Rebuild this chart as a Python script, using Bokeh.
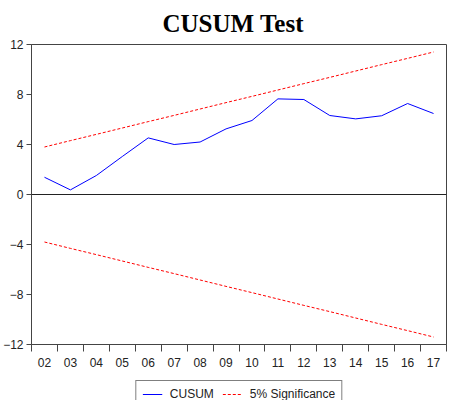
from bokeh.plotting import figure
from bokeh.layouts import column
from bokeh.models import (Range1d, FixedTicker, Span, Legend, LegendItem, ColumnDataSource)
from bokeh.embed import file_html
from bokeh.resources import INLINE

periods = ["02", "03", "04", "05", "06", "07", "08", "09",
           "10", "11", "12", "13", "14", "15", "16", "17"]
cusum = [1.38, 0.37, 1.52, 3.04, 4.53, 4.00, 4.20, 5.25,
         5.92, 7.65, 7.60, 6.32, 6.05, 6.30, 7.28, 6.48]
upper = [3.80, 4.31, 4.81, 5.32, 5.83, 6.33, 6.84, 7.35,
         7.85, 8.36, 8.87, 9.37, 9.88, 10.39, 10.89, 11.40]
lower = [-3.80, -4.31, -4.81, -5.32, -5.83, -6.33, -6.84, -7.35,
         -7.85, -8.36, -8.87, -9.37, -9.88, -10.39, -10.89, -11.40]
y_ticks = [-12, -8, -4, 0, 4, 8, 12]
series_names = ["CUSUM", "5% Significance"]

xpos = [i + 0.5 for i in range(len(periods))]
src = ColumnDataSource(dict(x=xpos, cusum=cusum, upper=upper, lower=lower))

CUSUM_COLOR = "#0000ff"
SIG_COLOR = "#ff0000"
SIG_DASH = "3 2"

p = figure(width=447, height=377, output_backend="svg", toolbar_location=None,
           x_range=Range1d(0, len(periods)), y_range=Range1d(-12, 12),
           min_border_left=27, min_border_right=1, min_border_top=36,
           min_border_bottom=33)

p.title.text = "CUSUM Test"
p.title.text_font = "Liberation Serif"
p.title.text_font_size = "25px"
p.title.text_font_style = "bold"
p.title.text_color = "black"
p.title.align = "left"
p.title.offset = 131
p.title.standoff = 15

p.grid.visible = False
p.outline_line_color = "#444444"
p.outline_line_width = 1

p.line("x", "cusum", source=src, line_color=CUSUM_COLOR, line_width=1)
p.line("x", "upper", source=src, line_color=SIG_COLOR, line_width=1, line_dash=SIG_DASH)
p.line("x", "lower", source=src, line_color=SIG_COLOR, line_width=1, line_dash=SIG_DASH)

p.add_layout(Span(location=0, dimension="width", line_color="#222222", line_width=1))

# axes
p.xaxis.ticker = FixedTicker(ticks=xpos, minor_ticks=list(range(len(periods) + 1)))
p.xaxis.major_label_overrides = {x: lab for x, lab in zip(xpos, periods)}
p.xaxis.major_tick_out = 0
p.xaxis.major_tick_in = 0
p.xaxis.minor_tick_out = 7
p.xaxis.minor_tick_in = 0
p.xaxis.minor_tick_line_color = "#444444"
p.xaxis.axis_line_color = "#444444"
p.xaxis.major_label_standoff = 6
p.xaxis.major_label_text_font = "Liberation Sans"
p.xaxis.major_label_text_font_size = "12px"
p.xaxis.major_label_text_color = "#222222"

p.yaxis.ticker = FixedTicker(ticks=y_ticks, minor_ticks=[])
p.yaxis.major_tick_out = 5
p.yaxis.major_tick_in = 0
p.yaxis.major_tick_line_color = "#444444"
p.yaxis.axis_line_color = "#444444"
p.yaxis.major_label_standoff = 3
p.yaxis.major_label_text_font = "Liberation Sans"
p.yaxis.major_label_text_font_size = "12px"
p.yaxis.major_label_text_color = "#222222"

# legend strip below the chart
lg = figure(width=447, height=23, output_backend="svg", toolbar_location=None,
            x_range=Range1d(100, 101), y_range=Range1d(100, 101),
            x_axis_location=None, y_axis_location=None,
            min_border_left=27, min_border_right=1, min_border_top=3, min_border_bottom=0)
lg.grid.visible = False
lg.outline_line_color = None
k1 = lg.line("x", "cusum", source=src, line_color=CUSUM_COLOR, line_width=1)
k2 = lg.line("x", "upper", source=src, line_color=SIG_COLOR, line_width=1, line_dash=SIG_DASH)

legend = Legend(items=[LegendItem(label=series_names[0], renderers=[k1]),
                       LegendItem(label=series_names[1], renderers=[k2])],
                orientation="horizontal", location="top_center")
legend.border_line_color = "black"
legend.border_line_width = 1
legend.background_fill_color = "white"
legend.background_fill_alpha = 1
legend.label_text_font = "Liberation Sans"
legend.label_text_font_size = "12px"
legend.label_text_color = "#222222"
legend.glyph_width = 20
legend.glyph_height = 12
legend.label_height = 12
legend.label_standoff = 8
legend.spacing = 8
legend.padding = 6
legend.margin = 0
lg.add_layout(legend, "center")

open("out.html", "w").write(file_html(column(p, lg, spacing=0), INLINE))
